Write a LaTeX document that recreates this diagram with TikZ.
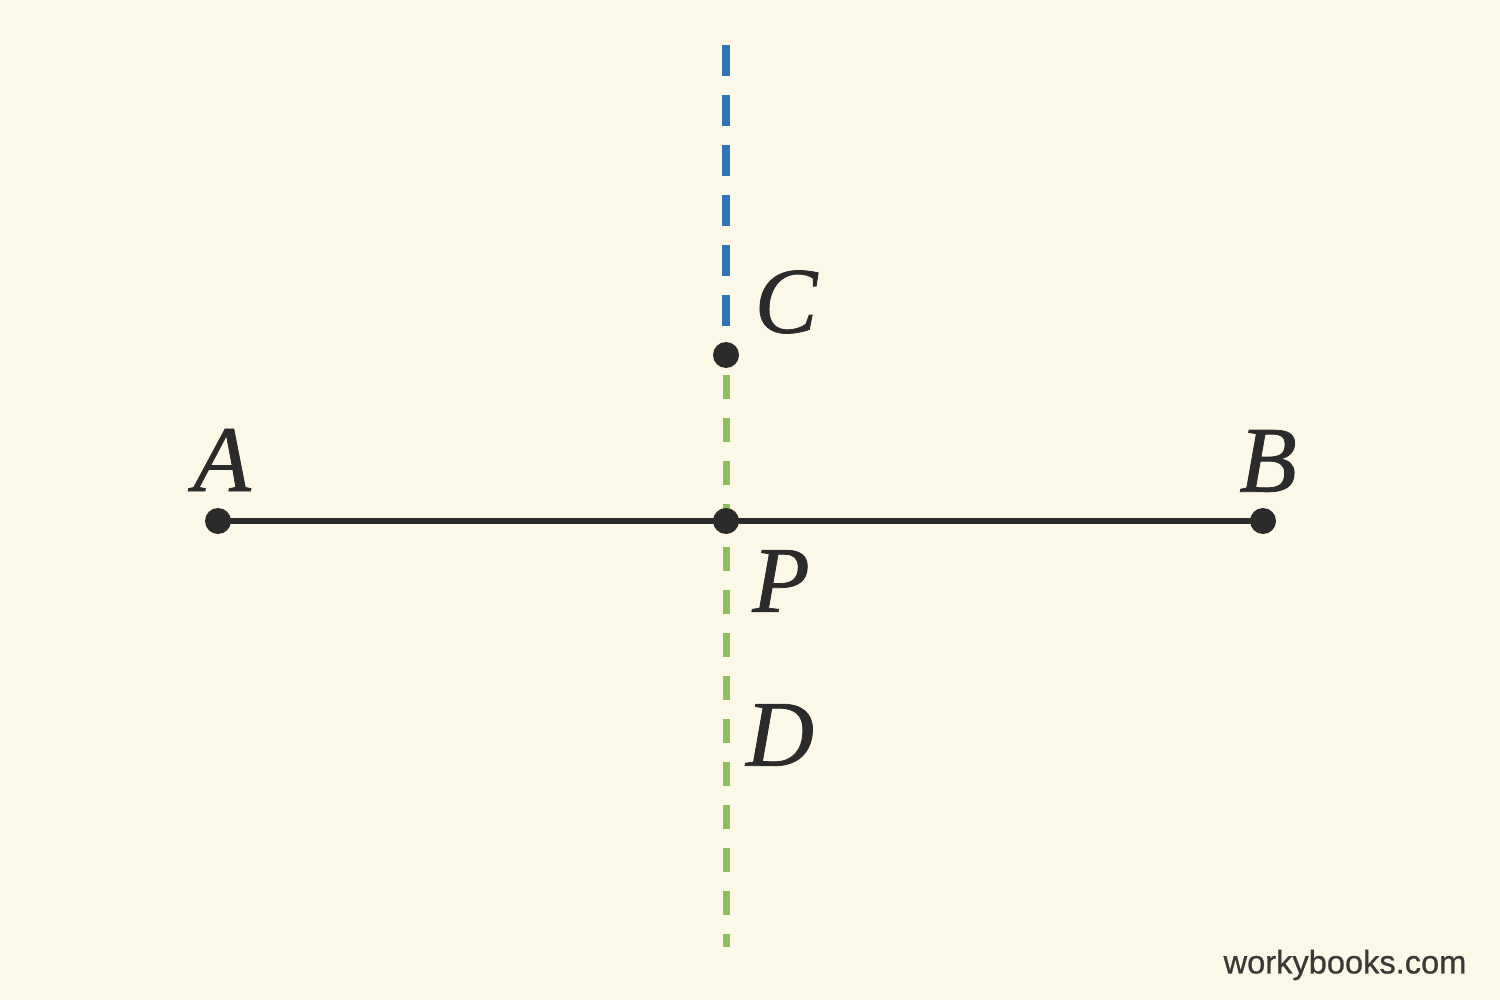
\documentclass[tikz,border=0pt]{standalone}
\usepackage{fontspec}
\newfontfamily\labfont[FakeBold=0.8]{Liberation Serif}
\newfontfamily\wmfont[FakeBold=0.7]{Liberation Sans}
\definecolor{bg}{HTML}{FCF8E7}
\definecolor{ink}{HTML}{2B2B2B}
\definecolor{bluel}{HTML}{2F74B5}
\definecolor{greenl}{HTML}{8CC05B}
\definecolor{wm}{HTML}{3A3935}
\tikzset{
  dot/.style={circle,fill=ink,inner sep=0pt,minimum size=13pt},
  lab/.style={font=\labfont\fontsize{47}{50}\selectfont\itshape,text=ink,inner sep=0pt},
  segline/.style={draw=ink,line width=3pt},
  bluedash/.style={draw=bluel,line width=4pt,dash pattern=on 15.5pt off 9.5pt},
  greendash/.style={draw=greenl,line width=3.5pt,dash pattern=on 12pt off 9.5pt},
}
\begin{document}
\begin{tikzpicture}[x=0.5pt,y=-0.5pt]
\fill[bg] (0,0) rectangle (1500,1000);
\useasboundingbox (0,0) rectangle (1500,1000);
% points
\coordinate (A) at (218,521);
\coordinate (B) at (1263,521);
\coordinate (P) at (726,521);
\coordinate (C) at (726,355);
\coordinate (Ctop) at (726,45);
\coordinate (Cend) at (726,327);
\coordinate (Dbot) at (726,947);
% lines
\draw[greendash,dash phase=-10pt] (C) -- (Dbot);
\draw[bluedash] (Ctop) -- (Cend);
\draw[segline] (A) -- (B);
% dots
\node[dot] (dA) at (A) {};
\node[dot] (dB) at (B) {};
\node[dot] (dP) at (P) {};
\node[dot] (dC) at (C) {};
% labels
\node[lab] (lA) at (222,460) {A};
\node[lab] (lB) at (1268,461) {B};
\node[lab] (lP) at (781,581) {P};
\node[lab] (lC) at (786,302) {C};
\node[lab] (lD) at (780,735) {D};
\node[font=\wmfont\fontsize{16.3}{18}\selectfont,text=wm,inner sep=0pt] (wm) at (1345,965) {workybooks.com};
\end{tikzpicture}
\end{document}
